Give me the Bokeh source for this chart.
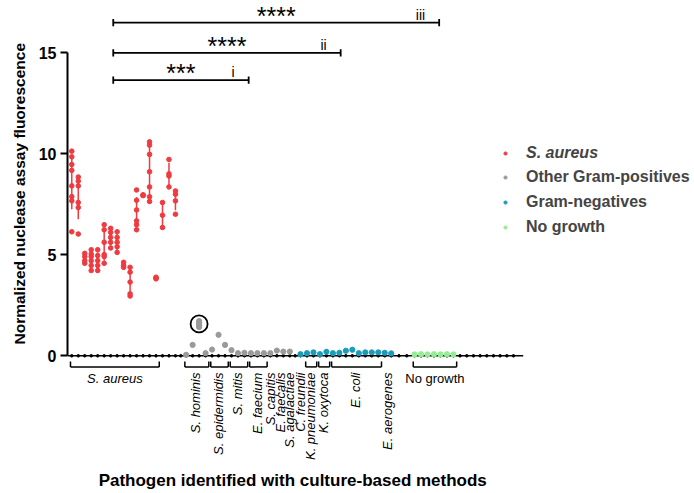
import numpy as np
from bokeh.plotting import figure
from bokeh.models import Range1d, FixedTicker, Label, Legend, LegendItem, Title
from bokeh.core.properties import value
from bokeh.embed import file_html
from bokeh.resources import INLINE

FONT = "Liberation Sans"

# ---------------- data ----------------
group_names = ["S. aureus", "Other Gram-positives", "Gram-negatives", "No growth"]
group_colors = ["#f03a40", "#9a9a9a", "#1a9bbb", "#93ee93"]

aureus_organisms = ["S. aureus"] * 17
aureus_values = [
    [10.13, 9.85, 9.47, 9.18, 8.41, 7.88, 7.67, 6.14],
    [8.85, 8.65, 8.41, 7.59, 7.34, 6.03],
    [5.07, 4.91, 4.71, 4.58],
    [5.25, 5.04, 4.91, 4.71, 4.47, 4.22],
    [5.25, 4.96, 4.71, 4.47, 4.22],
    [6.49, 6.24, 5.62, 5.01, 4.91, 4.58],
    [6.31, 6.11, 5.86, 5.62, 5.34],
    [6.14, 5.86, 5.62, 5.40, 5.12],
    [4.63, 4.47, 4.38],
    [4.38, 4.14, 3.65, 3.07, 2.96],
    [8.21, 7.70, 7.22, 6.68, 6.49, 6.24],
    [7.97, 7.95, 7.93],
    [10.59, 10.43, 9.97, 9.11, 8.36, 7.87, 7.64],
    [3.89, 3.85, 3.81],
    [7.59, 6.96, 6.35],
    [9.72, 9.01, 8.90, 8.36],
    [8.16, 8.00, 7.67, 7.01],
]

gp_organisms = (["S. hominis"] * 4 + ["S. epidermidis"] * 3 + ["S. mitis"] * 3 +
                ["E. faecium"] * 3 + ["S. capitis"] + ["E. faecalis"] * 2 + ["S. agalactiae"])
gp_values = [
    [0.05], [0.54], [1.42, 1.50, 1.58, 1.66, 1.72], [0.13], [0.31], [1.04], [0.54],
    [0.28], [0.13], [0.15], [0.13], [0.13], [0.13], [0.13], [0.26], [0.21], [0.21],
]
circled_column = 2  # highlighted Other Gram-positive isolate

gn_organisms = (["C. freundii"] + ["K. pneumoniae"] * 2 + ["K. oxytoca"] * 2 +
                ["E. coli"] * 8 + ["E. aerogenes"] * 2)
gn_values = [
    [0.08], [0.13], [0.17], [0.08], [0.20], [0.13], [0.15], [0.25], [0.30],
    [0.13], [0.17], [0.17], [0.17], [0.15], [0.12],
]

ng_organisms = ["No growth"] * 7
ng_values = [[0.07], [0.08], [0.07], [0.08], [0.07], [0.08], [0.07]]

# bracketed organisms: (label, group index, first column, last column)
brackets = [
    ("S. aureus", 0, 0, 13),
    ("S. hominis", 1, 0, 3),
    ("S. epidermidis", 1, 4, 6),
    ("S. mitis", 1, 7, 9),
    ("E. faecium", 1, 10, 12),
    ("K. pneumoniae", 2, 1, 2),
    ("K. oxytoca", 2, 3, 4),
    ("E. coli", 2, 5, 12),
    ("No growth", 3, 0, 6),
]
horizontal_labels = ["S. aureus", "No growth"]

# significance comparisons
sig_stars = ["***", "****", "****"]
sig_numerals = ["i", "ii", "iii"]
sig_heights = [13.65, 15.0, 16.49]
sig_left = 6.4
sig_right = [27.3, 41.5, 56.7]

y_ticks = [0, 5, 10, 15]

# ---------------- layout ----------------
W, H = 690, 492
group_start = [0.0, 17.65, 35.3, 52.9]
all_values = [aureus_values, gp_values, gn_values, ng_values]
all_orgs = [aureus_organisms, gp_organisms, gn_organisms, ng_organisms]
positions = [[group_start[g] + i for i in range(len(all_values[g]))] for g in range(4)]

X0 = -0.6615
p = figure(width=W, height=H, output_backend="svg", toolbar_location=None,
           x_axis_location=None, min_border_left=65, min_border_right=0,
           min_border_top=0, min_border_bottom=0,
           x_range=Range1d(X0, 95.49), y_range=Range1d(-6.767, 17.589))
p.outline_line_color = None
p.grid.visible = False
p.background_fill_color = "white"

yax = p.yaxis[0]
yax.ticker = FixedTicker(ticks=y_ticks)
yax.bounds = (0, 15)
yax.axis_line_width = 2
yax.axis_line_color = "black"
yax.major_tick_line_width = 2
yax.major_tick_out = 7
yax.major_tick_in = 0
yax.minor_tick_out = 0
yax.minor_tick_in = 0
yax.major_label_text_font = FONT
yax.major_label_text_font_style = "bold"
yax.major_label_text_font_size = "16px"
yax.major_label_text_color = "black"
yax.major_label_standoff = 4

# vertical axis title: starts 148 px above the frame bottom (level with just above 0)
p.add_layout(Title(text="Normalized nuclease assay fluorescence", align="left", offset=148,
                   standoff=16, text_font=FONT, text_font_style="bold",
                   text_font_size="15.5px", text_color="black"), "left")

# x axis baseline and tick dots
tick_x = []
for g in range(4):
    tick_x += positions[g]
tick_x += [(positions[0][-1] + positions[1][0]) / 2, (positions[1][-1] + positions[2][0]) / 2]
gap = positions[3][0] - positions[2][-1]
tick_x += [positions[2][-1] + gap / 3, positions[2][-1] + 2 * gap / 3]
tick_x += [positions[3][-1] + 1.03 * (k + 1) for k in range(9)]
axis_end = max(tick_x) + 1.5
p.segment(x0=[X0], y0=[0], x1=[axis_end], y1=[0], line_color="black", line_width=1.5)
p.scatter(x=tick_x, y=[0] * len(tick_x), size=2.6, color="black")

# data points
renderers = []
for g in range(4):
    xs, ys = [], []
    for x, vals in zip(positions[g], all_values[g]):
        xs += [x] * len(vals)
        ys += vals
    if g == 0:
        means = [float(np.mean(v)) for v in all_values[g]]
        sds = [float(np.std(v, ddof=1)) for v in all_values[g]]
        p.segment(x0=positions[g], x1=positions[g],
                  y0=[m - s for m, s in zip(means, sds)],
                  y1=[m + s for m, s in zip(means, sds)],
                  line_color=group_colors[g], line_width=1.5)
    r = p.scatter(x=xs, y=ys, size=4.6 if g == 0 else 5.2, color=group_colors[g])
    renderers.append(r)

# circle highlight
cvals = gp_values[circled_column]
p.scatter(x=[positions[1][circled_column]], y=[float(np.mean(cvals))], size=17,
          fill_color=None, line_color="black", line_width=1.8)

# brackets
br_top, br_bot = -0.28, -0.55
pad_l, pad_r = 0.2, 0.5
bx0, bx1, vx = [], [], []
for lab, g, a, b in brackets:
    l = positions[g][a] - pad_l
    r = positions[g][b] + pad_r
    bx0.append(l); bx1.append(r); vx += [l, r]
p.segment(x0=bx0, x1=bx1, y0=[br_bot] * len(bx0), y1=[br_bot] * len(bx0),
          line_color="black", line_width=1.5)
p.segment(x0=vx, x1=vx, y0=[br_top] * len(vx), y1=[br_bot] * len(vx),
          line_color="black", line_width=1.5)

# category labels
rot_x, rot_t, hor_x, hor_t = [], [], [], []
for g in range(4):
    seen = []
    for org in all_orgs[g]:
        if org not in seen:
            seen.append(org)
    for org in seen:
        xs = [positions[g][i] for i, o in enumerate(all_orgs[g]) if o == org]
        cx = float(np.mean(xs))
        if org in horizontal_labels:
            hor_x.append(cx); hor_t.append(org)
        else:
            rot_x.append(cx); rot_t.append(org)
for lab, g, a, b in brackets:
    if lab in hor_t:
        hor_x[hor_t.index(lab)] = (positions[g][a] - pad_l + positions[g][b] + pad_r) / 2

p.text(x=rot_x, y=[-0.83] * len(rot_x), text=rot_t, angle=np.pi / 2,
       text_font=value(FONT), text_font_style="italic", text_font_size="13px",
       text_align="right", text_baseline="middle", text_color="black")
p.text(x=[hor_x[0]], y=[-1.12], text=[hor_t[0]], text_font=value(FONT),
       text_font_style="italic", text_font_size="13px", text_align="center",
       text_baseline="middle", text_color="black")
p.text(x=hor_x[1:], y=[-1.12] * (len(hor_x) - 1), text=hor_t[1:], text_font=value(FONT),
       text_font_size="13px", text_align="center", text_baseline="middle", text_color="black")

# significance bars
n = len(sig_heights)
p.segment(x0=[sig_left] * n, x1=sig_right, y0=sig_heights, y1=sig_heights,
          line_color="black", line_width=1.8)
cap = 0.18
p.segment(x0=[sig_left] * n + sig_right, x1=[sig_left] * n + sig_right,
          y0=[h - cap for h in sig_heights] * 2, y1=[h + cap for h in sig_heights] * 2,
          line_color="black", line_width=1.8)
p.text(x=[(sig_left + r) / 2 for r in sig_right], y=sig_heights, text=sig_stars,
       text_font=value(FONT), text_font_size="25px", text_align="center",
       text_baseline="alphabetic", y_offset=-7, text_color="black")
p.text(x=sig_right, y=sig_heights, text=sig_numerals, x_offset=-14, y_offset=-8,
       text_font=value(FONT), text_font_size="14px", text_align="right",
       text_baseline="alphabetic", text_color="black")

# x axis title (inside the frame, which reaches the bottom of the canvas)
p.add_layout(Label(x=34.1, y=-6.18, text="Pathogen identified with culture-based methods",
                   text_align="center", text_baseline="middle",
                   text_font=FONT, text_font_style="bold", text_font_size="17px",
                   text_color="black"))

# legends
common = dict(padding=0, margin=0, spacing=5, label_height=20, glyph_height=20, glyph_width=8,
              label_standoff=17, border_line_color=None, background_fill_alpha=0,
              label_text_font=FONT, label_text_font_size="16px")
legA = Legend(items=[LegendItem(label=group_names[0], renderers=[renderers[0]])],
              location=(434, H - 163.3), label_text_font_style="bold italic", **common)
legB = Legend(items=[LegendItem(label=group_names[g], renderers=[renderers[g]]) for g in range(1, 4)],
              location=(434, H - 236.7), label_text_font_style="bold", **common)
p.add_layout(legA)
p.add_layout(legB)

open("out.html", "w").write(file_html(p, INLINE))
